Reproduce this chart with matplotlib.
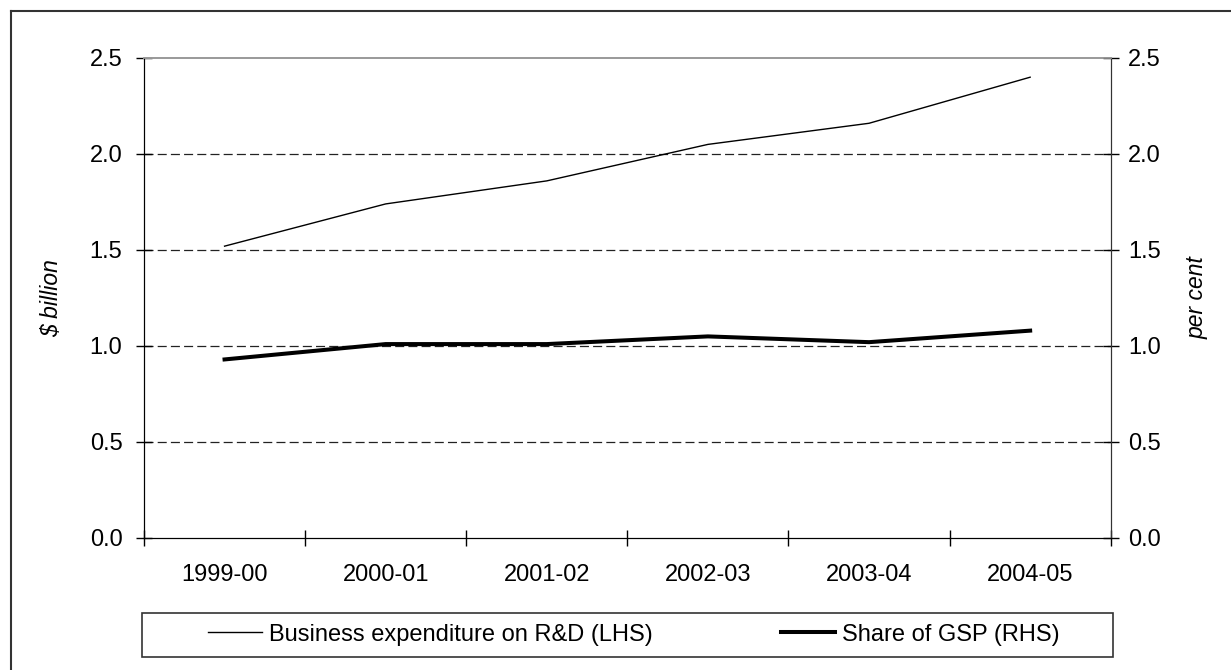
import matplotlib
matplotlib.use('Agg')
import matplotlib.pyplot as plt
from matplotlib.lines import Line2D

plt.rcParams['font.family'] = ['Liberation Sans', 'DejaVu Sans']
plt.rcParams['lines.scale_dashes'] = False

# données
years = ['1999-00', '2000-01', '2001-02', '2002-03', '2003-04', '2004-05']
berd = [1.52, 1.74, 1.86, 2.05, 2.16, 2.40]      # $ billion (LHS)
share_gsp = [0.93, 1.01, 1.01, 1.05, 1.02, 1.08]  # per cent (RHS)
yticks = [0.0, 0.5, 1.0, 1.5, 2.0, 2.5]

W, H = 1231, 670
fig = plt.figure(figsize=(W/100, H/100), dpi=100)

# cadre extérieur (haut + gauche, le reste hors image)
fig.add_artist(Line2D([11/W, 11/W], [0, 1-11/H], color='#333333', lw=1.5))
fig.add_artist(Line2D([11/W, 1], [1-11/H, 1-11/H], color='#333333', lw=1.5))

ax = fig.add_axes([144/W, 1-538/H, (1110.7-144)/W, (538-58)/H])
ax2 = ax.twinx()

x = list(range(len(years)))
l1, = ax.plot(x, berd, color='black', lw=1.0)
l2, = ax2.plot(x, share_gsp, color='black', lw=2.9)

for a in (ax, ax2):
    a.set_ylim(0, 2.5)
    a.set_yticks(yticks)
    a.set_yticklabels(['%.1f' % v for v in yticks])
    a.tick_params(axis='y', direction='inout', length=11, width=1, labelsize=17, color='black')
ax.tick_params(axis='y', pad=10)
ax2.tick_params(axis='y', pad=7)

ax.set_xlim(-0.5, len(years) - 0.5)
ax.set_xticks(x)
ax.set_xticklabels(years)
ax.set_xticks([i - 0.5 for i in range(len(years) + 1)], minor=True)
ax.tick_params(axis='x', which='major', length=0, labelsize=17, pad=19)
ax.tick_params(axis='x', which='minor', direction='inout', length=11, width=1, color='black')

for v in yticks[1:-1]:
    ax.axhline(v, color='#222222', lw=0.9, dashes=(6.5, 3), zorder=0)

for a in (ax, ax2):
    a.spines['top'].set_color('#999999')
    a.spines['left'].set_color('black')
    a.spines['bottom'].set_color('black')
    a.spines['right'].set_color('#333333')
    a.spines['top'].set_linewidth(1.2)

ax.set_ylabel('$ billion', fontsize=16.5, style='italic', labelpad=19)
ax2.set_ylabel('per cent', fontsize=16.5, style='italic', labelpad=18)

# légende
fig.add_artist(plt.Rectangle((142/W, 1-656.7/H), (1113-142)/W, 44/H, transform=fig.transFigure,
                             fill=False, edgecolor='#333333', lw=1.2))
ycen = 1 - 634.7/H
kw = dict(loc='center left', frameon=False, borderpad=0, borderaxespad=0,
          handlelength=2.3, handletextpad=0.28, fontsize=17)
fig.legend([l1], ['Business expenditure on R&D (LHS)'], bbox_to_anchor=(207.7/W, ycen), **kw)
fig.legend([l2], ['Share of GSP (RHS)'], bbox_to_anchor=(781/W, ycen), **kw)

fig.savefig('out.png', dpi=100)
